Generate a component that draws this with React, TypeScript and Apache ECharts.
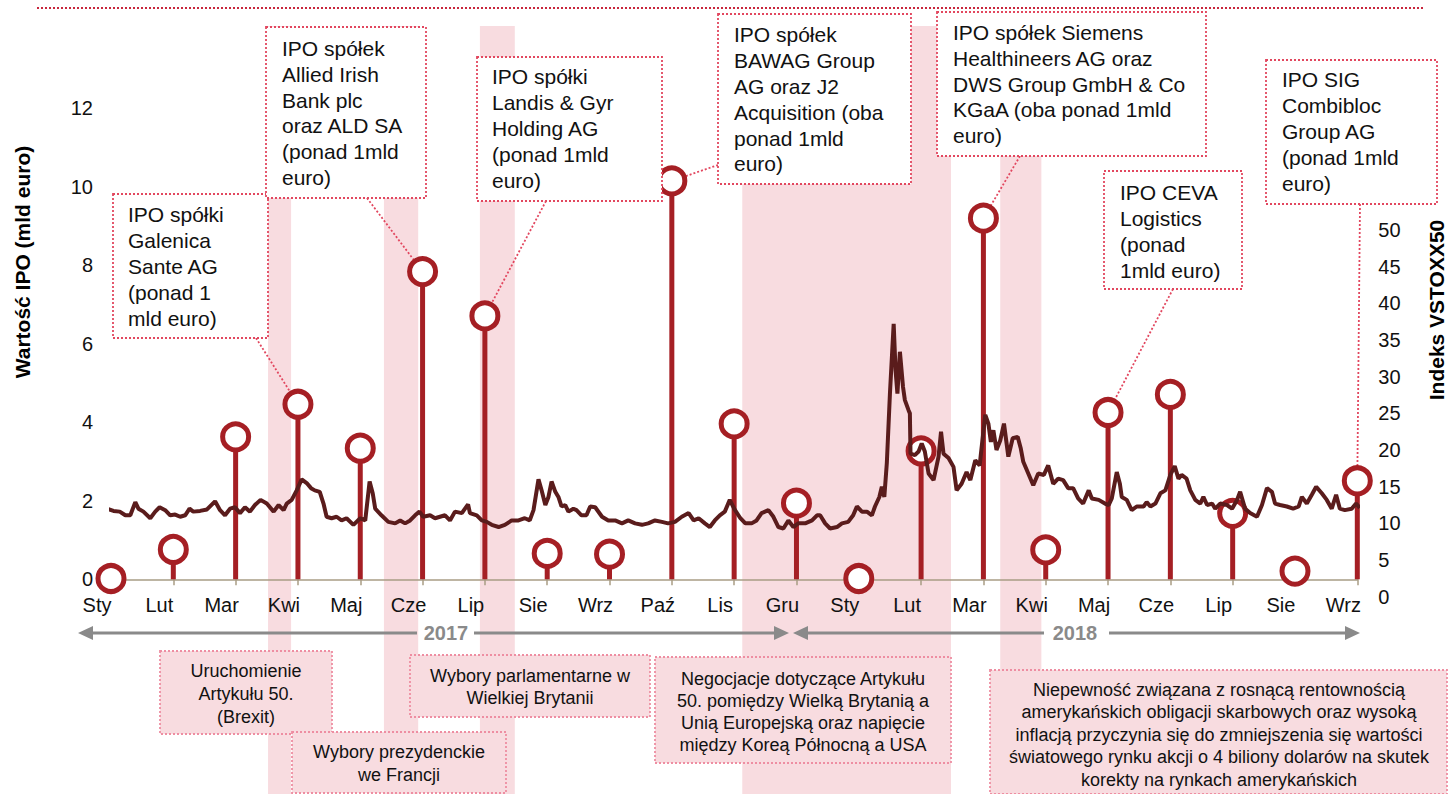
import React, { useEffect, useRef } from 'react';
import * as echarts from 'echarts';

const FONT = '"Liberation Sans", Arial, sans-serif';

// month tick labels (Jan 2017 .. Sep 2018)
const monthLabels = ['Sty', 'Lut', 'Mar', 'Kwi', 'Maj', 'Cze', 'Lip', 'Sie', 'Wrz', 'Paź', 'Lis', 'Gru',
  'Sty', 'Lut', 'Mar', 'Kwi', 'Maj', 'Cze', 'Lip', 'Sie', 'Wrz'];

// monthly IPO value (mld euro)
const ipoValues = [0.02, 0.76, 3.63, 4.46, 3.34, 7.84, 6.71, 0.66, 0.64, 10.15, 3.96, 1.94,
  0.02, 3.27, 9.2, 0.75, 4.25, 4.71, 1.68, 0.21, 2.51];

// VSTOXX50 index: [position in months from Jan 2017, value]
const vstoxx: [number, number][] = [
  [-0.13, 14.3], [-0.07, 12.0], [0.04, 11.7], [0.14, 11.6], [0.23, 11.1], [0.31, 11.1], [0.39, 12.9], [0.44, 12.0],
  [0.52, 11.6], [0.63, 10.7], [0.71, 11.6], [0.78, 12.2], [0.87, 11.8], [0.95, 11.1], [1.03, 11.2], [1.11, 10.9],
  [1.19, 11.1], [1.26, 12.0], [1.32, 11.6], [1.43, 11.7], [1.54, 11.9], [1.67, 13.0], [1.75, 11.8], [1.83, 11.1],
  [1.91, 12.0], [1.99, 12.2], [2.07, 11.4], [2.15, 12.2], [2.23, 11.6], [2.31, 12.5], [2.40, 13.2], [2.50, 12.7],
  [2.61, 11.6], [2.69, 12.5], [2.77, 11.8], [2.82, 12.7], [2.90, 13.2], [2.98, 14.5], [3.06, 16.0], [3.14, 15.5],
  [3.21, 14.8], [3.27, 14.5], [3.35, 14.3], [3.41, 12.7], [3.46, 10.9], [3.54, 10.7], [3.62, 10.9], [3.70, 10.4],
  [3.78, 10.7], [3.89, 9.8], [4.00, 10.7], [4.08, 10.4], [4.15, 15.7], [4.20, 14.1], [4.24, 12.0], [4.34, 11.1],
  [4.45, 10.2], [4.56, 10.0], [4.64, 10.4], [4.72, 10.0], [4.80, 10.4], [4.88, 11.1], [4.95, 11.6], [5.01, 10.9],
  [5.12, 11.1], [5.20, 10.7], [5.28, 10.9], [5.36, 11.1], [5.44, 10.4], [5.52, 11.6], [5.63, 11.4], [5.73, 12.6],
  [5.76, 11.4], [5.87, 11.1], [5.95, 10.4], [6.03, 10.2], [6.11, 9.8], [6.22, 9.5], [6.32, 9.8], [6.43, 10.4],
  [6.54, 10.4], [6.64, 10.7], [6.72, 10.4], [6.78, 11.8], [6.86, 16.0], [6.91, 14.5], [6.97, 12.5], [7.02, 13.6],
  [7.07, 15.7], [7.13, 14.3], [7.18, 13.6], [7.23, 12.3], [7.29, 12.5], [7.34, 11.6], [7.42, 12.0], [7.47, 11.8],
  [7.55, 11.1], [7.63, 11.1], [7.69, 12.3], [7.77, 12.2], [7.88, 10.9], [7.98, 10.4], [8.09, 10.4], [8.20, 10.0],
  [8.30, 10.4], [8.41, 10.0], [8.52, 9.8], [8.62, 10.0], [8.73, 10.4], [8.84, 10.2], [8.94, 10.0], [9.05, 10.2],
  [9.16, 10.9], [9.27, 11.4], [9.35, 10.4], [9.43, 10.7], [9.53, 10.0], [9.61, 9.5], [9.69, 10.4], [9.77, 11.1],
  [9.85, 11.6], [9.93, 13.2], [10.00, 12.0], [10.10, 10.7], [10.18, 10.0], [10.28, 10.0], [10.36, 10.4], [10.44, 11.4],
  [10.55, 11.8], [10.63, 10.9], [10.71, 9.5], [10.79, 9.3], [10.87, 10.4], [10.95, 9.5], [11.03, 10.0], [11.14, 10.0],
  [11.25, 10.4], [11.33, 11.1], [11.38, 11.1], [11.46, 10.0], [11.54, 9.3], [11.65, 9.5], [11.73, 10.0], [11.83, 10.2],
  [11.91, 11.1], [11.97, 12.3], [12.05, 11.6], [12.13, 11.6], [12.21, 11.1], [12.26, 12.3], [12.33, 13.6], [12.37, 15.0],
  [12.41, 13.6], [12.45, 18.2], [12.50, 27.7], [12.56, 37.2], [12.59, 30.9], [12.62, 27.7], [12.66, 33.4], [12.71, 28.6],
  [12.74, 26.8], [12.80, 25.4], [12.82, 25.0], [12.83, 19.5], [12.90, 19.3], [12.96, 19.8], [13.01, 20.9], [13.06, 19.8],
  [13.12, 16.8], [13.20, 15.9], [13.28, 19.1], [13.32, 22.5], [13.36, 19.5], [13.44, 18.9], [13.52, 17.7], [13.57, 14.5],
  [13.65, 15.4], [13.73, 17.0], [13.79, 15.9], [13.87, 18.6], [13.94, 17.9], [13.96, 19.5], [14.03, 24.8], [14.08, 23.6],
  [14.12, 21.1], [14.16, 22.7], [14.21, 20.0], [14.27, 21.3], [14.33, 23.6], [14.40, 19.1], [14.47, 21.6], [14.55, 21.8],
  [14.60, 20.2], [14.64, 18.4], [14.72, 16.8], [14.80, 15.2], [14.88, 16.8], [14.97, 16.6], [15.04, 17.9], [15.12, 15.4],
  [15.20, 16.1], [15.28, 15.9], [15.36, 14.8], [15.44, 14.8], [15.52, 13.4], [15.60, 12.7], [15.69, 14.5], [15.74, 13.4],
  [15.85, 13.2], [15.95, 12.7], [16.01, 12.5], [16.06, 13.4], [16.14, 17.0], [16.19, 15.4], [16.22, 13.6], [16.30, 13.2],
  [16.38, 11.8], [16.46, 12.3], [16.57, 12.3], [16.62, 12.9], [16.68, 12.3], [16.76, 12.7], [16.84, 14.1], [16.92, 14.5],
  [17.00, 16.6], [17.07, 17.8], [17.13, 16.1], [17.18, 16.6], [17.26, 16.1], [17.32, 14.5], [17.40, 13.2], [17.48, 12.7],
  [17.53, 13.6], [17.59, 12.5], [17.67, 12.7], [17.72, 12.0], [17.80, 12.7], [17.91, 12.5], [17.99, 12.0], [18.07, 13.2],
  [18.12, 14.3], [18.20, 12.0], [18.28, 11.4], [18.39, 10.9], [18.47, 12.5], [18.55, 14.8], [18.63, 14.3], [18.68, 12.7],
  [18.76, 12.5], [18.87, 12.3], [18.97, 12.0], [19.06, 12.3], [19.11, 13.6], [19.19, 12.7], [19.27, 13.9], [19.34, 15.0],
  [19.43, 14.1], [19.51, 13.2], [19.59, 12.0], [19.66, 13.9], [19.72, 12.0], [19.80, 11.8], [19.91, 12.0], [19.98, 12.7],
  [20.04, 12.1],
];

// shaded event periods, in months from Jan 2017
const bands: [number, number][] = [[2.52, 2.89], [4.38, 4.93], [5.92, 6.48], [10.13, 13.48], [14.27, 14.93]];

// IPO call-out boxes
const annotations = [
  { lines: ['IPO spółki', 'Galenica', 'Sante AG', '(ponad 1', 'mld euro)'], box: [113, 194, 155, 144], text: [128, 202], anchor: [256, 338], target: 3 },
  { lines: ['IPO spółek', 'Allied Irish', 'Bank plc', 'oraz ALD SA', '(ponad 1mld', 'euro)'], box: [266, 27, 160, 171], text: [282, 35.5], anchor: [367, 198], target: 5 },
  { lines: ['IPO spółki', 'Landis & Gyr', 'Holding AG', '(ponad 1mld', 'euro)'], box: [477, 57, 185, 144], text: [492, 64], anchor: [546, 201], target: 6 },
  { lines: ['IPO spółek', 'BAWAG Group', 'AG oraz J2', 'Acquisition (oba', 'ponad 1mld', 'euro)'], box: [718, 14, 193, 170], text: [734, 22], anchor: [718, 165], target: 9 },
  { lines: ['IPO spółek Siemens', 'Healthineers AG oraz', 'DWS Group GmbH & Co', 'KGaA (oba ponad 1mld', 'euro)'], box: [937, 12, 269, 144], text: [953, 19.5], anchor: [1020, 156], target: 14 },
  { lines: ['IPO CEVA', 'Logistics', '(ponad', '1mld euro)'], box: [1104, 171, 138, 118], text: [1120, 180], anchor: [1173, 289], target: 16 },
  { lines: ['IPO SIG', 'Combibloc', 'Group AG', '(ponad 1mld', 'euro)'], box: [1266, 60, 171, 144], text: [1282, 67], anchor: [1360, 204], target: 20 },
];

// event boxes below the axis
const events = [
  { lines: ['Uruchomienie', 'Artykułu 50.', '(Brexit)'], box: [160, 651, 172, 83], cx: 246, top: 659.5, lh: 23 },
  { lines: ['Wybory prezydenckie', 'we Francji'], box: [292, 732, 214, 61], cx: 399, top: 740.5, lh: 23 },
  { lines: ['Wybory parlamentarne w', 'Wielkiej Brytanii'], box: [410, 655, 240, 62], cx: 530, top: 664.5, lh: 22.5 },
  { lines: ['Negocjacje dotyczące Artykułu', '50. pomiędzy Wielką Brytanią a', 'Unią Europejską oraz napięcie', 'między Koreą Północną a USA'], box: [655, 657, 296, 106], cx: 803, top: 668, lh: 22 },
  { lines: ['Niepewność związana z rosnącą rentownością', 'amerykańskich obligacji skarbowych oraz wysoką', 'inflacją przyczynia się do zmniejszenia się wartości', 'światowego rynku akcji o 4 biliony dolarów na skutek', 'korekty na rynkach amerykańskich'], box: [990, 670, 457, 124], cx: 1219, top: 678.5, lh: 22.5 },
];

const RED = '#a51f24';
const LINE = '#5a1c1c';
const PINK = '#f8dce0';
const DOT = '#e2475f';
const GREY = '#8a8a8a';

export default function App() {
  const ref = useRef<HTMLDivElement>(null);
  useEffect(() => {
    const chart = echarts.init(ref.current!, null, { renderer: 'svg' });
    const labelStyle = { fontSize: 20, color: '#111', fontFamily: FONT };
    chart.setOption({
      animation: false,
      grid: [
        { left: 111, right: 93.7, top: 108.3, bottom: 214.7 },
        { left: 111, right: 93.7, top: 230, bottom: 197.3 },
      ],
      xAxis: [
        {
          type: 'value', gridIndex: 0, min: 0, max: 20, interval: 1,
          axisLine: { show: true, onZero: false, lineStyle: { color: '#a89d85', width: 1.5 } },
          axisTick: { show: true, length: 6, lineStyle: { color: '#a89d85', width: 1.5 } },
          splitLine: { show: false },
          axisLabel: { ...labelStyle, margin: 16, padding: [0, 28, 0, 0], formatter: (v: number) => monthLabels[Math.round(v)] ?? '' },
        },
        { type: 'value', gridIndex: 1, min: 0, max: 20, show: false },
      ],
      yAxis: [
        {
          type: 'value', gridIndex: 0, min: 0, max: 12, interval: 2,
          axisLine: { show: false }, axisTick: { show: false }, splitLine: { show: false },
          axisLabel: { ...labelStyle, margin: 18 },
        },
        {
          type: 'value', gridIndex: 1, position: 'right', min: 0, max: 50, interval: 5,
          axisLine: { show: false }, axisTick: { show: false }, splitLine: { show: false },
          axisLabel: { ...labelStyle, margin: 21 },
        },
      ],
      series: [
        {
          type: 'bar', xAxisIndex: 0, yAxisIndex: 0, barWidth: 5, z: 2,
          data: ipoValues.map((v, i) => [i, v]),
          itemStyle: { color: RED },
        },
        {
          type: 'scatter', xAxisIndex: 0, yAxisIndex: 0, z: 3,
          data: ipoValues.map((v, i) => [i, v]),
          symbol: 'circle', symbolSize: 26,
          itemStyle: { color: '#fff', borderColor: RED, borderWidth: 5, opacity: 1 },
        },
        {
          type: 'line', xAxisIndex: 1, yAxisIndex: 1, z: 4, data: vstoxx,
          showSymbol: false, symbol: 'none', clip: false,
          lineStyle: { color: LINE, width: 4 },
        },
      ],
    });

    const px = (m: number) => chart.convertToPixel({ xAxisIndex: 0 } as any, m) as number;
    const pt = (i: number) => chart.convertToPixel({ seriesIndex: 1 } as any, [i, ipoValues[i]]) as number[];

    const g: any[] = [];
    bands.forEach(([a, b]) => {
      const x0 = px(a), x1 = px(b);
      g.push({ type: 'rect', z: -5, shape: { x: x0, y: 26, width: x1 - x0, height: 768 }, style: { fill: PINK } });
    });
    g.push({ type: 'line', z: 5, shape: { x1: 37, y1: 8, x2: 1423, y2: 8 }, style: { stroke: '#c8263c', lineWidth: 2, lineDash: [2, 2] } });

    annotations.forEach((a) => {
      const c = pt(a.target);
      g.push({ type: 'line', z: 1, shape: { x1: a.anchor[0], y1: a.anchor[1], x2: c[0], y2: c[1] }, style: { stroke: DOT, lineWidth: 1.8, lineDash: [2, 2] } });
      g.push({ type: 'rect', z: 10, shape: { x: a.box[0], y: a.box[1], width: a.box[2], height: a.box[3] }, style: { fill: '#fff', stroke: DOT, lineWidth: 1.8, lineDash: [2, 2] } });
      g.push({ type: 'text', z: 11, x: a.text[0], y: a.text[1], style: { text: a.lines.join('\n'), fontSize: 21, fontFamily: FONT, fill: '#111', lineHeight: 25.8, align: 'left', verticalAlign: 'top' } });
    });

    events.forEach((e) => {
      g.push({ type: 'rect', z: 10, shape: { x: e.box[0], y: e.box[1], width: e.box[2], height: e.box[3] }, style: { fill: PINK, stroke: '#ee8ea2', lineWidth: 1.8, lineDash: [2, 2] } });
      g.push({ type: 'text', z: 11, x: e.cx, y: e.top, style: { text: e.lines.join('\n'), fontSize: 18, fontFamily: FONT, fill: '#111', lineHeight: e.lh, align: 'center', verticalAlign: 'top' } });
    });

    // year arrows
    const Y = 633;
    const seg = (x1: number, x2: number) => ({ type: 'line', z: 6, shape: { x1, y1: Y, x2, y2: Y }, style: { stroke: GREY, lineWidth: 3 } });
    const head = (tip: number, dir: number) => ({ type: 'polygon', z: 6, shape: { points: [[tip, Y], [tip - dir * 15, Y - 7], [tip - dir * 15, Y + 7]] }, style: { fill: GREY } });
    g.push(head(78, -1), seg(90, 417), seg(474, 778), head(789, 1));
    g.push(head(793, -1), seg(805, 1044), seg(1109, 1348), head(1360, 1));
    g.push({ type: 'text', z: 6, x: 446, y: Y, style: { text: '2017', fontSize: 20, fontWeight: 'bold', fontFamily: FONT, fill: GREY, align: 'center', verticalAlign: 'middle' } });
    g.push({ type: 'text', z: 6, x: 1075, y: Y, style: { text: '2018', fontSize: 20, fontWeight: 'bold', fontFamily: FONT, fill: GREY, align: 'center', verticalAlign: 'middle' } });

    // axis titles
    g.push({ type: 'text', z: 6, x: 22, y: 262, rotation: Math.PI / 2, style: { text: 'Wartość IPO (mld euro)', fontSize: 21, fontWeight: 'bold', fontFamily: FONT, fill: '#000', align: 'center', verticalAlign: 'middle' } });
    g.push({ type: 'text', z: 6, x: 1436, y: 310, rotation: Math.PI / 2, style: { text: 'Indeks VSTOXX50', fontSize: 21, fontWeight: 'bold', fontFamily: FONT, fill: '#000', align: 'center', verticalAlign: 'middle' } });

    chart.setOption({ graphic: g });
    return () => chart.dispose();
  }, []);
  return <div ref={ref} style={{ position: 'absolute', left: 0, top: 0, width: 1451, height: 794, background: '#fff' }} />;
}
